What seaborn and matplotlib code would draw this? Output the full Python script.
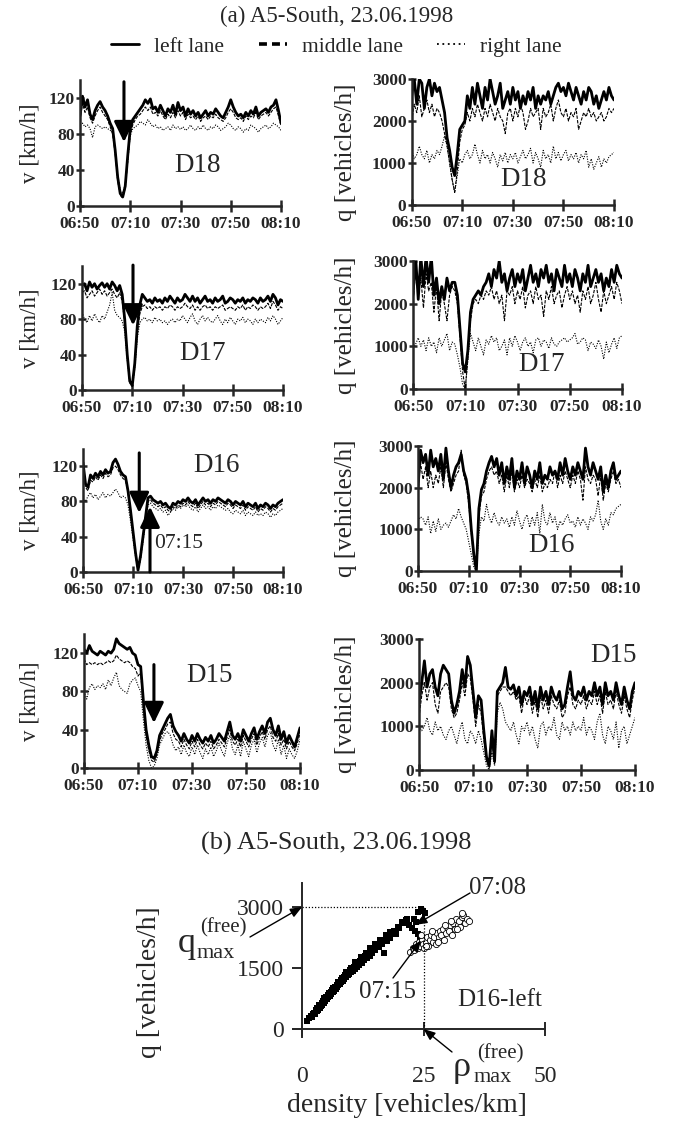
import matplotlib
matplotlib.use("Agg")
import matplotlib.pyplot as plt
import seaborn as sns
from matplotlib.lines import Line2D

# ---------------------------------------------------------------- data
minutes = list(range(81))                      # minutes after 06:50
time_ticks = [0, 20, 40, 60, 80]
time_labels = ["06:50", "07:10", "07:30", "07:50", "08:10"]
speed_ticks = [0, 40, 80, 120]
flow_ticks = [0, 1000, 2000, 3000]
lane_names = ["left lane", "middle lane", "right lane"]

# D18 speed [km/h]
d18_v_left = [100, 122, 110, 118, 102, 96, 106, 112, 116, 110, 106,
              100, 92, 86, 62, 32, 14, 10, 22, 56, 86,
              96, 100, 104, 108, 112, 118, 114, 119, 108, 110,
              104, 112, 106, 100, 108, 104, 112, 102, 115, 106,
              110, 100, 108, 102, 106, 100, 104, 98, 102, 106,
              100, 104, 102, 108, 104, 100, 98, 104, 110, 118,
              110, 104, 100, 102, 98, 104, 100, 106, 102, 110,
              100, 104, 106, 108, 104, 110, 112, 118, 106, 92]
d18_v_middle = [96, 114, 104, 110, 98, 92, 100, 106, 110, 104, 100,
                96, 88, 80, 58, 28, 12, 9, 20, 50, 80,
                90, 96, 100, 102, 106, 110, 106, 110, 102, 104,
                100, 106, 100, 96, 102, 98, 104, 98, 106, 100,
                104, 96, 102, 98, 100, 96, 100, 94, 98, 100,
                96, 100, 98, 102, 98, 96, 94, 98, 104, 108,
                104, 98, 96, 98, 94, 100, 96, 100, 98, 104,
                96, 100, 102, 104, 100, 104, 108, 110, 100, 90]
d18_v_right = [90, 92, 88, 90, 86, 76, 88, 90, 88, 86, 88,
               86, 84, 82, 60, 34, 18, 14, 24, 50, 78,
               86, 88, 90, 94, 92, 90, 96, 92, 88, 90,
               86, 88, 84, 86, 88, 84, 90, 86, 88, 85,
               88, 84, 86, 90, 86, 84, 88, 85, 90, 86,
               84, 88, 86, 90, 88, 84, 86, 88, 92, 90,
               86, 84, 88, 86, 82, 86, 84, 90, 88, 86,
               82, 86, 88, 90, 86, 88, 92, 90, 88, 84]

# D17 speed [km/h]
d17_v_left = [118, 120, 112, 122, 116, 120, 114, 118, 121, 116, 120,
              114, 122, 118, 112, 118, 108, 80, 40, 10, 5,
              30, 72, 96, 108, 104, 100, 102, 98, 104, 100,
              102, 98, 104, 100, 106, 102, 98, 104, 100, 102,
              108, 104, 100, 106, 100, 104, 98, 102, 106, 100,
              102, 98, 104, 100, 102, 106, 98, 100, 104, 102,
              98, 102, 100, 104, 98, 102, 100, 104, 102, 98,
              104, 100, 102, 106, 100, 108, 104, 96, 102, 100]
d17_v_middle = [110, 112, 104, 108, 112, 106, 110, 114, 108, 112, 106,
                110, 114, 108, 104, 110, 100, 76, 38, 10, 6,
                26, 64, 86, 94, 96, 92, 94, 90, 94, 92,
                94, 90, 94, 92, 96, 94, 90, 94, 92, 94,
                98, 94, 92, 96, 90, 94, 90, 94, 96, 92,
                94, 90, 94, 92, 94, 96, 90, 92, 94, 92,
                90, 94, 92, 96, 90, 94, 92, 96, 94, 90,
                94, 92, 94, 98, 92, 100, 96, 90, 94, 92]
d17_v_right = [88, 80, 76, 84, 78, 86, 80, 76, 84, 80, 88,
               96, 110, 90, 84, 82, 78, 66, 34, 8, 4,
               24, 58, 76, 80, 82, 78, 80, 76, 82, 78,
               80, 76, 78, 74, 78, 80, 76, 80, 78, 84,
               80, 76, 82, 86, 78, 74, 80, 84, 78, 82,
               78, 76, 80, 84, 78, 74, 80, 76, 82, 78,
               74, 80, 78, 82, 76, 80, 78, 74, 80, 76,
               80, 78, 76, 82, 78, 84, 80, 74, 78, 82]

# D16 speed [km/h]
d16_v_left = [124, 100, 96, 110, 106, 112, 108, 114, 110, 116, 112,
              114, 124, 128, 122, 114, 110, 108, 92, 70, 46,
              22, 2, 18, 40, 62, 84, 86, 82, 80, 78,
              80, 76, 78, 74, 72, 78, 76, 80, 78, 82,
              80, 84, 80, 78, 82, 76, 80, 84, 80, 82,
              78, 82, 80, 84, 82, 80, 78, 82, 80, 76,
              80, 78, 76, 80, 74, 78, 76, 74, 78, 72,
              76, 74, 78, 76, 72, 76, 74, 78, 80, 82]
d16_v_middle = [116, 96, 92, 104, 102, 108, 104, 110, 106, 112, 108,
                110, 118, 120, 116, 110, 106, 104, 90, 68, 44,
                20, 2, 16, 38, 60, 80, 82, 78, 76, 74,
                76, 72, 74, 70, 68, 74, 72, 76, 74, 78,
                76, 80, 76, 74, 78, 72, 76, 80, 76, 78,
                74, 78, 76, 80, 78, 76, 74, 78, 76, 72,
                76, 74, 72, 76, 70, 74, 72, 70, 74, 68,
                72, 70, 74, 72, 68, 72, 70, 74, 76, 78]
d16_v_right = [84, 80, 86, 90, 84, 88, 82, 86, 90, 84, 88,
               86, 90, 94, 90, 84, 86, 84, 76, 58, 38,
               18, 2, 14, 34, 56, 76, 78, 74, 72, 70,
               72, 68, 70, 64, 68, 72, 70, 74, 72, 76,
               74, 76, 72, 70, 74, 68, 72, 76, 72, 74,
               70, 74, 72, 76, 74, 72, 70, 72, 68, 66,
               70, 68, 66, 70, 64, 68, 66, 64, 68, 64,
               66, 64, 68, 66, 62, 66, 64, 68, 70, 72]

# D15 speed [km/h]
d15_v_left = [124, 120, 128, 122, 120, 118, 122, 120, 118, 122, 120,
              124, 135, 130, 128, 126, 124, 126, 120, 118, 108,
              106, 70, 40, 24, 12, 10, 18, 34, 40, 46,
              52, 56, 44, 38, 34, 28, 36, 30, 26, 34,
              28, 36, 30, 26, 32, 28, 34, 26, 30, 36,
              32, 28, 38, 48, 34, 30, 36, 28, 40, 34,
              28, 36, 42, 30, 38, 44, 36, 48, 52, 40,
              34, 44, 30, 38, 26, 34, 28, 22, 32, 42]
d15_v_middle = [114, 108, 110, 108, 110, 108, 110, 108, 110, 112, 110,
                112, 118, 114, 112, 110, 112, 110, 106, 104, 96,
                100, 62, 34, 18, 8, 6, 14, 28, 36, 40,
                46, 48, 36, 30, 28, 22, 30, 24, 20, 28,
                22, 30, 24, 20, 26, 22, 28, 20, 24, 30,
                26, 22, 32, 40, 28, 24, 30, 22, 34, 28,
                22, 30, 36, 24, 32, 38, 30, 40, 44, 32,
                28, 36, 24, 30, 20, 28, 22, 18, 26, 36]
d15_v_right = [80, 72, 84, 88, 82, 86, 84, 88, 82, 92, 86,
               94, 100, 86, 82, 80, 78, 88, 92, 94, 86,
               80, 50, 24, 8, 0, 2, 10, 24, 30, 36,
               38, 34, 24, 18, 22, 14, 24, 16, 12, 22,
               14, 24, 16, 10, 20, 14, 22, 12, 18, 26,
               18, 12, 26, 34, 20, 14, 24, 12, 28, 20,
               12, 24, 30, 16, 26, 32, 22, 34, 38, 24,
               18, 30, 14, 24, 10, 20, 14, 10, 18, 30]

# D18 flow [vehicles/h]
d18_q_left = [2600, 3000, 2400, 3000, 2900, 2300, 2800, 3000, 2600, 2900, 2700,
              2800, 2500, 2200, 1600, 1300, 900, 700, 1200, 1800, 1900,
              2000, 2600, 2300, 2800, 2400, 2900, 2600, 2300, 2800, 2500,
              3000, 2700, 2400, 2600, 2900, 2300, 2500, 2700, 2400, 2800,
              2500, 2700, 2300, 2600, 2400, 2700, 2500, 2800, 2300, 2600,
              2400, 2600, 2500, 2700, 2400, 2600, 2800, 2900, 2700, 2800,
              2600, 2900, 2700, 2500, 2800, 2600, 2400, 2700, 2500, 2800,
              2700, 2400, 2600, 2300, 2500, 2700, 2500, 2800, 2600, 2500]
d18_q_middle = [2000, 2400, 2200, 2600, 2100, 2300, 2500, 2200, 2400, 2100, 2300,
                2200, 2000, 1700, 1400, 1000, 600, 300, 800, 1500, 1800,
                1900, 2200, 2000, 2300, 2100, 2400, 2200, 2000, 2300, 2100,
                2400, 2200, 2000, 2300, 2100, 2000, 1700, 2200, 2300, 2000,
                2300, 2100, 2400, 2200, 1800, 2000, 2300, 2100, 2200, 2300,
                1800, 2300, 2100, 2200, 2400, 2000, 2300, 2500, 2200, 2100,
                2300, 2000, 2200, 2100, 2300, 1800, 2000, 2200, 2100, 2300,
                2100, 2200, 2000, 2100, 2200, 2000, 2100, 2300, 2200, 2300]
d18_q_right = [1300, 1100, 1200, 1400, 1200, 1100, 1300, 1000, 1200, 1100, 1300,
               1200, 1400, 1650, 1400, 1000, 600, 300, 700, 1100, 1000,
               1200, 1300, 1100, 1200, 1450, 1200, 1000, 1300, 1100, 1200,
               1000, 1250, 1100, 900, 1200, 1050, 1250, 1000, 1200, 1100,
               1250, 1000, 1150, 1300, 1100, 1200, 1350, 1000, 1250, 1100,
               900, 1300, 1100, 1200, 1000, 1400, 1100, 1250, 1050, 1200,
               1300, 1050, 1200, 1100, 1250, 1000, 1200, 1100, 1300, 900,
               1100, 850, 1000, 1150, 900, 1100, 1000, 1150, 1200, 1250]

# D17 flow [vehicles/h]
d17_q_left = [2200, 3100, 2100, 3100, 2400, 3100, 2500, 3100, 2200, 2600, 2000,
              2400, 2100, 2600, 2300, 2500, 2500, 2200, 1400, 600, 400,
              900, 1800, 2100, 2200, 2300, 2200, 2400, 2500, 2700, 2400,
              2800, 2600, 3000, 2500, 2700, 2300, 2600, 2800, 2400, 2700,
              2500, 2800, 2300, 2600, 2900, 2500, 2700, 2400, 2800, 2600,
              2900, 2500, 2700, 2300, 2800, 2600, 2400, 2900, 2500, 2700,
              2400, 2800, 2600, 2300, 2700, 2500, 2900, 2400, 2600, 2800,
              2500, 2700, 2300, 2600, 2400, 2800, 2500, 2900, 2700, 2600]
d17_q_middle = [2000, 2800, 2200, 2600, 1900, 2700, 2300, 2500, 1800, 2400, 1600,
                2300, 2000, 1600, 2200, 2400, 2300, 2000, 1200, 400, 0,
                700, 1600, 2000, 2100, 2000, 2200, 2100, 2300, 2200, 2400,
                2100, 2300, 2000, 2200, 1600, 2300, 2200, 2400, 2000, 2300,
                2100, 2400, 1900, 2200, 2300, 2000, 2400, 2100, 2200, 1700,
                2300, 2100, 2400, 2000, 2200, 2300, 1900, 2200, 2400, 2100,
                2300, 2000, 2200, 1800, 2300, 2100, 2400, 2000, 2200, 2500,
                2100, 1800, 2300, 2000, 2200, 2400, 2100, 2500, 2300, 2000]
d17_q_right = [950, 1050, 1200, 1000, 1150, 900, 1200, 1000, 1100, 850, 1200,
               1000, 1150, 1300, 900, 1100, 1050, 800, 500, 100, 0,
               700, 1300, 1100, 900, 1200, 1000, 800, 1150, 1050, 1250,
               1100, 1200, 900, 1000, 1150, 800, 1200, 1000, 1250, 1100,
               900, 1100, 1200, 1000, 1100, 850, 1150, 1200, 1000, 1150,
               1100, 950, 1200, 1050, 1000, 1100, 1150, 1200, 1100, 1150,
               1200, 1300, 1050, 1100, 1200, 1150, 900, 1100, 1050, 950,
               1150, 1000, 700, 1100, 850, 1050, 1200, 950, 1200, 1250]

# D16 flow [vehicles/h]
d16_q_left = [2000, 2900, 2600, 2800, 2300, 2900, 2500, 2700, 2400, 2800, 2200,
              2950, 2400, 2000, 2300, 2500, 2600, 2800, 2400, 2200, 1800,
              1000, 400, 0, 1500, 1950, 2100, 2400, 2600, 2750, 2500,
              2700, 2300, 2600, 2100, 2500, 2200, 2700, 2000, 2400, 2200,
              2600, 2100, 2500, 2300, 2000, 2400, 2200, 2600, 2100, 2300,
              2200, 2500, 2300, 2400, 2200, 2600, 2300, 2700, 2400, 2200,
              2500, 2300, 2600, 2400, 2200, 2950, 2500, 2300, 2600, 2400,
              2200, 2500, 1900, 2300, 2000, 2400, 2600, 2200, 2300, 2400]
d16_q_middle = [1900, 2600, 2200, 2500, 2000, 2400, 2000, 2300, 2100, 2500, 2000,
                2600, 2200, 1900, 2100, 2300, 2400, 2900, 2300, 2100, 1600,
                900, 300, 0, 1300, 1800, 1900, 2200, 2400, 2500, 2300,
                2400, 2100, 2300, 1900, 2300, 2000, 2400, 1900, 2200, 2000,
                2300, 2000, 2200, 2100, 1900, 2200, 2000, 2300, 1900, 2100,
                2000, 2200, 2100, 2400, 2000, 2300, 2100, 2400, 2200, 2000,
                2300, 2100, 2400, 2200, 1700, 2500, 2200, 2100, 2300, 2200,
                1800, 2300, 1700, 2100, 1900, 2200, 2400, 2100, 2200, 2000]
d16_q_right = [1200, 1300, 1250, 1100, 1300, 900, 1200, 950, 1250, 1000, 1100,
               1150, 1050, 1200, 1350, 1250, 1500, 1300, 1150, 1000, 700,
               400, 100, 0, 900, 1300, 1200, 1600, 1300, 1150, 1400,
               1200, 1100, 1300, 1150, 1250, 1050, 1300, 1100, 1450, 1200,
               1000, 1250, 1350, 1050, 1300, 1100, 1400, 900, 1600, 1200,
               1100, 1400, 1150, 1300, 1000, 1200, 1100, 1250, 1350, 1150,
               1200, 1050, 1300, 1100, 1250, 1150, 1000, 1300, 1200, 1350,
               1700, 1200, 1000, 1250, 1100, 1400, 1350, 1500, 1550, 1600]

# D15 flow [vehicles/h]
d15_q_left = [1500, 2000, 2500, 1900, 2200, 2300, 1900, 1700, 2200, 2400, 2300,
              2200, 1600, 1300, 1500, 1800, 2300, 1900, 2600, 2400, 1800,
              1200, 1700, 1600, 900, 300, 100, 900, 200, 1800, 1900,
              2000, 2350, 1900, 1850, 1950, 1700, 1900, 1500, 1800, 1700,
              1900, 1500, 1800, 1400, 1900, 1600, 1800, 1500, 1900, 1700,
              1600, 1800, 1400, 1500, 1900, 2250, 1700, 1600, 1800, 1700,
              1900, 1600, 1800, 1700, 2000, 1700, 1900, 1500, 2000, 1700,
              1800, 1600, 2000, 1700, 1500, 1900, 1600, 1400, 1800, 2000]
d15_q_middle = [1200, 1700, 2000, 1600, 1900, 2000, 1500, 1300, 1800, 1900, 2000,
                1900, 1400, 1200, 1300, 1600, 2000, 1700, 2200, 2100, 1600,
                1000, 1500, 1300, 700, 200, 50, 700, 150, 1700, 1800,
                1900, 1900, 1800, 1700, 1800, 1600, 1700, 1300, 1700, 1500,
                1700, 1300, 1600, 1200, 1700, 1400, 1600, 1300, 1700, 1500,
                1400, 1600, 1200, 1300, 1700, 1900, 1500, 1400, 1600, 1500,
                1700, 1400, 1600, 1500, 1800, 1500, 1700, 1300, 1800, 1500,
                1600, 1400, 1800, 1500, 1300, 1700, 1400, 1200, 1600, 1900]
d15_q_right = [1000, 900, 1000, 1200, 900, 800, 1100, 900, 1000, 800, 700,
               900, 1000, 800, 600, 900, 1100, 700, 600, 900, 800,
               600, 900, 700, 400, 100, 0, 400, 100, 1300, 1550,
               1400, 1100, 1000, 900, 1100, 800, 600, 1000, 900, 1100,
               800, 1000, 700, 500, 1000, 1100, 800, 1000, 900, 1200,
               800, 700, 1100, 900, 1000, 800, 1100, 900, 1000, 900,
               1200, 800, 1000, 900, 700, 1100, 1300, 800, 600, 1000,
               900, 700, 1100, 500, 900, 1000, 600, 800, 1000, 1200]

# D16 left lane, flow-density points
free_density = [1.0, 1.5, 1.8, 2.0, 2.2, 2.5, 2.6, 2.8, 3.0, 3.1, 3.3, 3.4, 3.6, 3.8,
                3.9, 4.1, 4.2, 4.4, 4.5, 4.7, 4.8, 5.0, 5.1, 5.3, 5.4, 5.6, 5.7, 5.9,
                6.0, 6.2, 6.3, 6.5, 6.6, 6.8, 6.9, 7.1, 7.2, 7.4, 7.5, 7.7, 7.8, 8.0,
                8.1, 8.3, 8.4, 8.6, 8.7, 8.9, 9.0, 9.2, 9.4, 9.5, 9.7, 9.9, 10.1, 10.3,
                10.5, 10.7, 10.9, 11.1, 11.3, 11.5, 11.8, 12.0, 12.3, 12.5, 12.8, 13.0,
                13.3, 13.6, 13.9, 14.2, 14.5, 14.8, 15.1, 15.4, 15.8, 16.1, 16.5, 16.9,
                17.0, 17.4, 17.8, 18.2, 18.6, 19.0, 19.4, 20.0, 20.5, 20.9, 21.3, 22.0,
                22.6, 23.0, 23.5, 23.9, 24.4, 24.8, 25.3, 23.2, 23.8, 24.3, 24.7,
                3.5, 4.6, 5.5, 6.4, 7.3, 8.2, 9.1, 10.0, 11.0, 12.1, 13.2, 14.0, 15.0,
                16.0, 17.2, 18.0, 19.7, 21.6]
free_flow = [200, 260, 330, 300, 380, 400, 360, 460, 430, 520, 470, 560, 520, 600,
             560, 650, 600, 690, 640, 720, 690, 790, 740, 830, 780, 870, 820, 900,
             860, 950, 900, 990, 940, 1040, 990, 1080, 1030, 1120, 1070, 1160, 1110, 1200,
             1150, 1240, 1190, 1280, 1230, 1320, 1270, 1360, 1320, 1400, 1350, 1440, 1400, 1480,
             1430, 1530, 1480, 1570, 1530, 1620, 1580, 1680, 1630, 1730, 1690, 1800,
             1750, 1850, 1800, 1900, 1860, 2000, 1950, 2060, 2020, 2130, 2080, 1860,
             2200, 2160, 2260, 2230, 2360, 2420, 2330, 2480, 2640, 2600, 2680, 2560,
             2480, 2700, 2620, 2880, 2960, 2900, 2860, 2420, 2340, 2250, 2180,
             600, 760, 880, 1000, 1150, 1250, 1400, 1500, 1640, 1760, 1870, 1980, 2080,
             2180, 2300, 2380, 2520, 2700]
cong_density = [22.3, 22.8, 23.1, 23.5, 23.8, 24.0, 24.3, 24.6, 24.9, 25.2, 25.5, 25.8,
                26.0, 26.3, 26.6, 26.9, 27.2, 27.5, 27.8, 28.1, 28.4, 28.7, 29.0, 29.3,
                29.6, 29.9, 30.2, 30.5, 30.8, 31.1, 31.4, 31.7, 32.0, 32.3, 32.6, 32.9,
                33.2, 33.5, 33.9, 34.3, 24.5, 25.6, 26.8, 27.9, 29.4, 30.6, 31.9, 33.0]
cong_flow = [1900, 2000, 1950, 2100, 2000, 2150, 2050, 2200, 2100, 1980, 2150, 2250,
             2050, 2200, 2300, 2150, 2250, 2100, 2350, 2250, 2400, 2300, 2450, 2200,
             2350, 2500, 2400, 2550, 2300, 2600, 2450, 2700, 2550, 2650, 2500, 2750,
             2800, 2600, 2700, 2650, 2300, 2050, 2400, 2150, 2550, 2650, 2450, 2850]

# ---------------------------------------------------------------- figure
W, H = 673, 1123
sns.set_style("ticks")
plt.rcParams["font.family"] = ["Liberation Serif", "DejaVu Serif"]

fig = plt.figure(figsize=(W / 100, H / 100), dpi=100)


def px_rect(x0, x1, ytop, ybot):
    return [x0 / W, 1 - ybot / H, (x1 - x0) / W, (ybot - ytop) / H]


def fx(x):
    return x / W


def fy(y):
    return 1 - y / H


def draw_lanes(ax, left, middle, right):
    sns.lineplot(x=minutes, y=right, ax=ax, color="black", linewidth=0.8,
                 estimator=None, sort=False)
    ax.lines[-1].set_dashes([1.0, 1.3])
    sns.lineplot(x=minutes, y=middle, ax=ax, color="black", linewidth=0.8,
                 estimator=None, sort=False)
    ax.lines[-1].set_dashes([3.0, 1.2])
    sns.lineplot(x=minutes, y=left, ax=ax, color="black", linewidth=2.0,
                 estimator=None, sort=False)


def style_panel(ax, ymax, yticks):
    ax.set_xlim(0, 80)
    ax.set_ylim(0, ymax)
    ax.set_xticks(time_ticks)
    ax.set_xticklabels(time_labels)
    ax.set_yticks(yticks)
    ax.set_xlabel("")
    ax.set_ylabel("")
    for s in ["top", "right"]:
        ax.spines[s].set_visible(False)
    for s in ["left", "bottom"]:
        ax.spines[s].set_linewidth(1.8)
    ax.tick_params(axis="x", direction="inout", length=8.5, width=1.8, pad=3,
                   labelsize=12.5)
    ax.tick_params(axis="y", direction="inout", length=5.5, width=1.8, pad=1,
                   labelsize=12.5)
    for lab in ax.get_xticklabels() + ax.get_yticklabels():
        lab.set_fontweight("bold")


def big_arrow(ax, x, y_from, y_to):
    ax.annotate("", xy=(x, y_to), xytext=(x, y_from),
                arrowprops=dict(arrowstyle="-|>,head_length=0.62,head_width=0.3",
                                mutation_scale=20, lw=2.2, color="black",
                                shrinkA=0, shrinkB=0))


# (pixel box, lanes, detector, detector label centre, y-label centre)
speed_panels = [
    ((80, 281, 80, 206), (d18_v_left, d18_v_middle, d18_v_right), "D18", (198, 166), 143),
    ((82, 283, 266, 390), (d17_v_left, d17_v_middle, d17_v_right), "D17", (203, 353), 328),
    ((83, 283, 448.5, 572), (d16_v_left, d16_v_middle, d16_v_right), "D16", (217, 465), 510),
    ((84, 300, 634, 768), (d15_v_left, d15_v_middle, d15_v_right), "D15", (210, 675), 701),
]
flow_panels = [
    ((411.7, 614, 79, 205), (d18_q_left, d18_q_middle, d18_q_right), "D18", (524, 180), 152),
    ((413, 622, 261, 389), (d17_q_left, d17_q_middle, d17_q_right), "D17", (542, 365), 325),
    ((418, 621, 446, 571), (d16_q_left, d16_q_middle, d16_q_right), "D16", (552, 545), 508),
    ((419, 635, 639, 770), (d15_q_left, d15_q_middle, d15_q_right), "D15", (614, 655), 704),
]

speed_axes = []
for rect, series, name, (lx, ly), yl in speed_panels:
    ax = fig.add_axes(px_rect(*rect))
    draw_lanes(ax, *series)
    style_panel(ax, 140, speed_ticks)
    fig.text(fx(lx), fy(ly), name, fontsize=19.5, ha="center", va="center")
    fig.text(fx(30), fy(yl), "v [km/h]", fontsize=16.5, rotation=90,
             ha="center", va="center")
    speed_axes.append(ax)

for rect, series, name, (lx, ly), yl in flow_panels:
    ax = fig.add_axes(px_rect(*rect))
    draw_lanes(ax, *series)
    style_panel(ax, 3000, flow_ticks)
    fig.text(fx(lx), fy(ly), name, fontsize=19.5, ha="center", va="center")
    fig.text(fx(346), fy(yl), "q [vehicles/h]", fontsize=18, rotation=90,
             ha="center", va="center")

# arrows marking the breakdown
big_arrow(speed_axes[0], 17.5, 138, 71)
big_arrow(speed_axes[1], 20.3, 141, 73)
big_arrow(speed_axes[2], 22.5, 135, 67)
big_arrow(speed_axes[2], 26.8, 0, 74)
big_arrow(speed_axes[3], 25.9, 108, 47)
fig.text(fx(179), fy(543), "07:15", fontsize=15.5, ha="center", va="center")

# headings and lane key
fig.text(0.5, fy(16), "(a) A5-South, 23.06.1998", fontsize=16.5, ha="center", va="center")
handles = [
    Line2D([], [], color="black", lw=2.0, ls="-"),
    Line2D([], [], color="black", lw=2.6, dashes=(2.2, 1.4)),
    Line2D([], [], color="black", lw=1.3, dashes=(1.0, 2.0)),
]
fig.legend(handles, lane_names, loc="center", bbox_to_anchor=(0.5, fy(47)),
           ncol=3, frameon=False, fontsize=15.5, handlelength=1.3,
           handletextpad=0.7, columnspacing=1.6)

fig.text(0.5, fy(843), "(b) A5-South, 23.06.1998", fontsize=19, ha="center", va="center")

# ---------------------------------------------------------------- flow-density plot
axb = fig.add_axes(px_rect(292.8, 545, 882.6, 1037.1))
sns.scatterplot(x=free_density, y=free_flow, ax=axb, marker="s", s=20,
                color="black", edgecolor="black", linewidth=0)
sns.scatterplot(x=cong_density, y=cong_flow, ax=axb, marker="o", s=20,
                facecolor="white", edgecolor="black", linewidth=0.6)
axb.set_xlim(-1.9, 50)
axb.set_ylim(-200, 3600)
axb.set_xticks([0, 25, 50])
axb.set_yticks([0, 1500, 3000])
axb.spines["left"].set_position(("data", 0))
axb.spines["bottom"].set_position(("data", 0))
for s in ["top", "right"]:
    axb.spines[s].set_visible(False)
for s in ["left", "bottom"]:
    axb.spines[s].set_linewidth(1.4)
axb.tick_params(axis="x", direction="inout", length=10, width=1.4, pad=22, labelsize=17)
axb.tick_params(axis="y", direction="out", length=7, width=1.4, pad=6, labelsize=17)
axb.set_xlabel("")
axb.set_ylabel("")
axb.plot([0, 25], [3000, 3000], color="black", lw=0.9, dashes=(1, 1.5))
axb.plot([25, 25], [0, 3000], color="black", lw=0.9, dashes=(1, 1.5))

small_arrow = dict(arrowstyle="-|>,head_length=0.5,head_width=0.2", mutation_scale=14,
                   lw=1.0, color="black", shrinkA=0, shrinkB=0)
axb.annotate("", xy=(0, 3000), xycoords="data", xytext=(250, H - 937),
             textcoords="figure pixels", arrowprops=small_arrow)
axb.annotate("", xy=(25, 0), xycoords="data", xytext=(452, H - 1052),
             textcoords="figure pixels", arrowprops=small_arrow)
axb.annotate("", xy=(23.3, 2560), xycoords="data", xytext=(470, H - 893),
             textcoords="figure pixels", arrowprops=small_arrow)
axb.annotate("", xy=(24.5, 2180), xycoords="data", xytext=(393, H - 978),
             textcoords="figure pixels", arrowprops=small_arrow)

fig.text(fx(498), fy(888), "07:08", fontsize=18, ha="center", va="center")
fig.text(fx(388), fy(992), "07:15", fontsize=18, ha="center", va="center")
fig.text(fx(500), fy(1000), "D16-left", fontsize=18, ha="center", va="center")
fig.text(fx(187), fy(943), "q", fontsize=26, ha="center", va="center")
fig.text(fx(223), fy(928), "(free)", fontsize=15, ha="center", va="center")
fig.text(fx(216), fy(953), "max", fontsize=16, ha="center", va="center")
fig.text(fx(462), fy(1068), "ρ", fontsize=26, ha="center", va="center")
fig.text(fx(500), fy(1054), "(free)", fontsize=15, ha="center", va="center")
fig.text(fx(493), fy(1078), "max", fontsize=16, ha="center", va="center")
fig.text(fx(407), fy(1106), "density [vehicles/km]", fontsize=20, ha="center", va="center")
fig.text(fx(150), fy(982), "q [vehicles/h]", fontsize=20, rotation=90,
         ha="center", va="center")

fig.savefig("out.png", dpi=100)
